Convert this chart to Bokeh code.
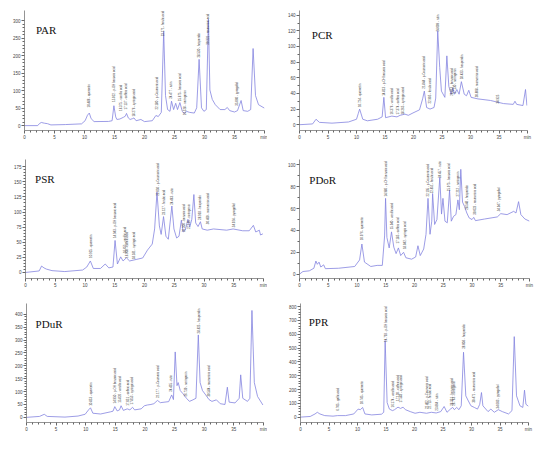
import math
from bokeh.plotting import figure
from bokeh.models import Range1d, FixedTicker, Label
from bokeh.layouts import column, row
from bokeh.core.properties import value
from bokeh.embed import file_html
from bokeh.resources import INLINE

# ---------------- data (retention time in min, absorbance in mAU) ----------------
x_ticks = [0, 5, 10, 15, 20, 25, 30, 35, 40]

# PAR
par_t = [0.0, 2.2, 2.5, 2.8, 3.3, 3.85, 4.4, 6.8, 9.5, 10.1, 10.5, 10.8, 11.1, 11.6, 14.0, 14.6, 14.9, 15.2, 15.4,
         15.9, 16.5, 16.8, 17.0, 17.3, 17.6, 18.0, 18.25, 18.6, 19.4, 20.0, 21.3, 21.9, 22.3, 22.8, 23.2, 23.5,
         23.85, 24.25, 24.5, 24.85, 25.2, 25.5, 25.9, 26.3, 26.6, 27.0, 27.5, 28.3, 28.7, 29.1, 29.5, 29.9, 30.3,
         30.65, 30.9, 31.3, 31.8, 32.6, 33.4, 33.8, 34.2, 35.0, 35.5, 36.1, 36.45, 37.2, 37.7, 38.1, 38.5, 39.0, 40.0]
par_mau = [0, 0, 6, 9, 7, 5.5, 2, 3, 5, 14, 30, 36, 20, 11.5, 12, 14, 57, 25, 17.6,
           19, 24, 27, 35, 22, 17.6, 20, 22, 14, 17.6, 11.5, 14, 29, 26, 38, 270, 86,
           46, 41, 70, 46, 64, 46, 66, 41, 35, 41, 38, 36, 51, 190, 51, 41, 46,
           305, 102, 75, 60, 46, 46, 52, 43, 39, 43, 72, 43, 41, 46, 221, 86, 60, 50]
par_lab_t = [10.7, 14.87, 16.1, 16.9, 18.25, 22.1, 22.95, 24.4, 25.85, 26.65, 29.0, 30.5, 35.3]
par_lab_y = [52, 68, 42, 46, 26, 46, 256, 77, 70, 30, 195, 232, 57]
par_lab = ["10.486 - quercetin", "15.022 - p-OH benzoic acid", "16.375 - vanillic acid", "17.137 - caffeic acid",
           "18.276 - syringic acid", "22.180 - p-Coumaric acid", "23.171 - ferulic acid", "24.477 - rutin",
           "25.675 - benzoic acid", "26.528 - naringenin", "28.530 - hesperidin", "30.331 - rosmarinic acid",
           "35.060 - pyrogallol"]
par_yticks = [0, 50, 100, 150, 200, 250, 300]

# PCR
pcr_t = [0, 2.3, 2.9, 3.5, 5.7, 8.6, 10.0, 10.3, 10.55, 11.1, 11.9, 13.7, 14.5, 14.8, 15.1, 16.2, 17.1, 17.65,
         18.5, 19.1, 19.9, 21.05, 21.6, 21.9, 22.3, 22.9, 23.6, 23.9, 24.25, 24.6, 24.9, 25.5, 25.85, 26.2, 26.6,
         26.9, 27.2, 27.6, 28.0, 28.4, 28.9, 29.3, 29.7, 30.1, 31.3, 33.5, 35.8, 37.5, 37.8, 38.1, 39.2, 39.65, 39.9]
pcr_mau = [0, 1, 7, 3, 2, 3.5, 7, 14, 20, 7, 5, 7, 10, 35, 9, 11, 10, 12,
           13.5, 12, 15, 19, 33, 43, 22, 20, 22, 34, 120, 73, 43, 35, 88, 49, 39,
           47, 39, 45, 39, 55, 39, 37, 44, 35, 33, 31, 27, 26, 30, 26, 24.5, 45, 24.5]
pcr_lab_t = [10.55, 14.7, 16.2, 17.25, 18.1, 21.75, 22.75, 24.2, 26.6, 27.2, 28.4, 31.0, 34.7]
pcr_lab_y = [22.6, 37, 13, 13, 13, 46, 27, 119, 37, 40, 58, 35, 27]
pcr_lab = ["10.724 - quercetin", "14.813 - p-OH benzoic acid", "16.376 - vanillic acid", "17.374 - caffeic acid",
           "18.265 - syringic acid", "21.844 - p-Coumaric acid", "22.905 - ferulic acid", "24.009 - rutin",
           "26.853 - benzoic acid", "27.130 - naringenin", "28.433 - hesperidin", "30.808 - rosmarinic acid",
           "34.925"]
pcr_yticks = [0, 20, 40, 60, 80, 100, 120, 140]

# PSR
psr_t = [0, 2.3, 2.7, 3.1, 3.5, 4.45, 6.6, 9.6, 10.3, 10.9, 11.4, 12.6, 13.4, 14.0, 14.7, 15.05, 15.45, 16.0, 16.4,
         16.95, 17.5, 18.6, 19.7, 20.5, 20.9, 21.3, 21.7, 22.1, 22.5, 22.8, 23.2, 23.6, 24.0, 24.6, 24.95, 25.4,
         25.8, 26.2, 26.5, 26.85, 27.3, 27.6, 27.95, 28.3, 28.6, 29.0, 29.4, 29.7, 30.55, 31.6, 33.8, 34.9, 36.5,
         37.6, 38.3, 38.7, 39.3, 39.5, 39.9]
psr_mau = [0, 2.5, 10.6, 7.6, 5.6, 3, 1.5, 4, 9, 19, 6.6, 6.6, 14, 7.6, 9, 53, 14, 25.8, 19,
           24.3, 19, 21.5, 24, 37, 42, 47, 72, 133, 77, 63, 92.5, 60, 55, 110, 72, 57,
           60, 86.5, 67, 70, 88, 75, 88, 129, 82, 76, 84, 72, 70, 72, 70, 72, 69,
           69, 78, 67, 70, 62, 64]
psr_lab_t = [10.9, 15.0, 16.6, 16.95, 18.2, 22.2, 23.2, 24.6, 26.5, 27.4, 29.2, 30.6, 35.0]
psr_lab_y = [24, 57, 32, 24, 22, 127, 95, 112, 67, 72, 87, 80, 75]
psr_lab = ["10.925 - quercetin", "14.943 - p-OH benzoic acid", "16.655 - vanillic acid", "16.908 - caffeic acid",
           "18.181 - syringic acid", "22.050 - p-Coumaric acid", "23.127 - ferulic acid", "24.463 - rutin",
           "26.300 - benzoic acid", "27.195 - naringenin", "28.993 - hesperidin", "30.460 - rosmarinic acid",
           "34.924 - pyrogallol"]
psr_yticks = [0, 25, 50, 75, 100, 125, 150, 175]

# PDoR
pdor_t = [0, 0.6, 1.7, 2.5, 2.85, 3.1, 3.4, 3.7, 4.2, 4.5, 6.8, 9.6, 10.45, 10.85, 11.3, 12.4, 13.5, 14.4, 14.8,
          14.97, 15.2, 15.6, 16.0, 16.4, 16.8, 17.2, 17.6, 18.1, 18.5, 19.5, 20.2, 20.6, 21.0, 21.6, 22.0, 22.35,
          22.7, 23.0, 23.15, 23.5, 23.9, 24.4, 24.7, 24.95, 25.3, 25.7, 26.1, 26.4, 26.8, 27.2, 27.55, 27.8, 28.05,
          28.35, 28.7, 29.1, 29.5, 30.0, 30.3, 30.6, 32.2, 34.4, 35.0, 36.1, 37.25, 37.65, 38.1, 38.5, 39.2, 40.0]
pdor_mau = [0, 2.4, 3, 5.4, 12, 9, 11, 6.5, 8.5, 5, 5.4, 7, 13, 27.6, 11, 7, 8, 8, 35,
            69.4, 33.6, 24, 38.7, 24.7, 18.8, 24, 17, 20, 15, 13.7, 15.7, 26, 17, 23, 36.5, 69.4,
            36.5, 48.5, 73.8, 45.5, 50, 88.7, 55, 69.4, 48.5, 47, 76.8, 48.5, 53, 54.5, 68, 59, 96,
            66, 62, 56, 51.5, 50, 52, 49, 50.5, 52.4, 55.4, 54.5, 57.5, 56, 66.4, 54.5, 50.5, 48.5]
pdor_lab_t = [10.85, 14.97, 16.0, 17.1, 18.2, 22.3, 23.05, 24.4, 26.0, 27.5, 29.1, 30.4, 34.7]
pdor_lab_y = [31, 71, 41, 28, 23, 71, 74, 88, 76, 71, 59, 54.5, 57.5]
pdor_lab = ["10.976 - quercetin", "14.986 - p-OH benzoic acid", "15.940 - vanillic acid", "17.185 - caffeic acid",
            "18.042 - syringic acid", "22.195 - p-Coumaric acid", "22.851 - ferulic acid", "24.457 - rutin",
            "25.975 - benzoic acid", "27.212 - naringenin", "28.548 - hesperidin", "30.023 - rosmarinic acid",
            "34.947 - pyrogallol"]
pdor_yticks = [0, 20, 40, 60, 80, 100]

# PDuR
pdur_t = [0, 2.2, 3.0, 3.5, 6.5, 8.7, 9.9, 10.5, 10.8, 11.2, 12.5, 14.2, 14.6, 14.9, 15.3, 15.7, 15.96, 16.35,
          17.0, 17.45, 17.9, 18.25, 19.35, 19.9, 20.4, 21.0, 21.5, 22.1, 22.6, 24.0, 24.5, 24.8, 25.1, 25.4, 25.6,
          25.95, 26.4, 27.0, 27.5, 28.1, 28.6, 29.0, 29.3, 29.7, 30.25, 30.8, 31.3, 32.05, 32.7, 33.5, 33.9, 34.2,
          35.2, 35.9, 36.15, 36.5, 37.3, 37.7, 38.05, 38.45, 39.0, 39.9]
pdur_mau = [0, 3.6, 11.9, 3.6, 1, 5, 12, 29.7, 37, 16, 13, 21.5, 24, 41.6, 25, 29, 45, 27,
            33, 29, 39, 29, 33, 45, 48, 50, 53, 65.6, 57, 61, 87, 69, 254, 123, 135,
            104, 92, 74, 62, 68, 74, 320, 135, 104, 87, 69, 62, 68, 53, 50, 117, 59,
            56, 74, 165, 74, 62, 74, 415, 135, 81, 48]
pdur_lab_t = [10.8, 14.85, 15.8, 17.05, 17.8, 22.1, 24.4, 26.85, 29.0, 30.7]
pdur_lab_y = [45, 54, 57, 45, 50, 75, 99, 81, 326, 81]
pdur_lab = ["10.853 - quercetin", "14.950 - p-OH benzoic acid", "15.826 - vanillic acid", "17.051 - caffeic acid",
            "17.853 - syringic acid", "22.177 - p-Coumaric acid", "24.435 - rutin", "26.739 - naringenin",
            "28.825 - hesperidin", "30.584 - rosmarinic acid"]
pdur_yticks = [0, 50, 100, 150, 200, 250, 300, 350, 400]

# PPR
ppr_t = [0, 1.7, 2.55, 2.95, 3.4, 4.25, 5.7, 6.5, 7.9, 9.35, 10.1, 10.5, 10.9, 11.3, 12.5, 14.2, 14.6, 14.85,
         15.2, 15.6, 16.15, 16.5, 17.1, 17.55, 18.0, 18.4, 19.25, 20.1, 20.95, 22.1, 22.95, 23.8, 24.6, 25.2,
         25.7, 26.3, 26.7, 27.0, 27.4, 27.8, 28.2, 28.6, 29.0, 29.45, 29.9, 30.5, 31.05, 31.45, 31.75, 32.0,
         32.9, 33.4, 34.0, 34.7, 35.4, 36.5, 37.1, 37.5, 37.9, 38.5, 39.0, 39.3, 39.55, 40.0]
ppr_mau = [0, 4.6, 23, 35, 23, 11, 7, 11, 11, 23, 58, 54, 70, 23, 16, 21, 35, 555,
           105, 58, 47, 54, 72, 63, 72, 54, 40, 28, 35, 28, 35, 30, 40, 77,
           35, 58, 70, 54, 70, 54, 82, 470, 154, 117, 82, 70, 58, 93, 178, 82,
           40, 58, 35, 54, 40, 23, 47, 583, 154, 82, 70, 195, 93, 78]
ppr_lab_t = [6.5, 10.8, 14.85, 16.15, 17.1, 17.65, 22.2, 22.6, 23.85, 26.5, 26.9, 28.6, 30.35, 34.6]
ppr_lab_y = [47, 93, 545, 70, 117, 105, 58, 58, 47, 82, 82, 495, 105, 63]
ppr_lab = ["6.705 - gallic acid", "10.745 - quercetin", "14.793 - p-OH benzoic acid", "16.174 - vanillic acid",
           "17.120 - caffeic acid", "17.583 - syringic acid", "22.402 - p-Coumaric acid", "22.713 - ferulic acid",
           "23.864 - rutin", "26.351 - benzoic acid", "26.763 - naringenin", "28.008 - hesperidin",
           "30.471 - rosmarinic acid", "34.603 - pyrogallol"]
ppr_yticks = [0, 100, 200, 300, 400, 500, 600, 700, 800]

# ---------------- styling ----------------
TRACE = "#8484e0"
AXIS = "#666666"
SANS = "Liberation Sans"
SERIF = "Liberation Serif"


def panel(name, t, mau, lab_t, lab_y, lab_txt, yticks, yminor, yr, borders, name_xy):
    left, right, top, bottom = borders
    p = figure(width=267, height=145, output_backend="svg", toolbar_location=None,
               x_range=Range1d(0, 40), y_range=Range1d(*yr),
               min_border_left=left, min_border_right=right,
               min_border_top=top, min_border_bottom=bottom,
               background_fill_color="white", border_fill_color="white")
    p.outline_line_color = None
    p.grid.visible = False
    p.line(t, mau, line_color=TRACE, line_width=0.8)
    p.text(x=lab_t, y=lab_y, text=lab_txt, angle=math.pi / 2,
           text_font=value(SANS), text_font_size="2.9px", text_color="#3a3a3a",
           text_align="left", text_baseline="middle")
    # axes
    minor_x = [v for v in range(0, 41) if v % 5 != 0]
    p.xaxis.ticker = FixedTicker(ticks=x_ticks, minor_ticks=minor_x)
    p.xaxis.major_label_overrides = {40: "min"}
    ymin = [v for v in range(0, int(yticks[-1]) + 1, yminor) if v not in yticks]
    p.yaxis.ticker = FixedTicker(ticks=yticks, minor_ticks=ymin)
    for ax in (p.xaxis[0], p.yaxis[0]):
        ax.axis_line_color = AXIS
        ax.axis_line_width = 0.7
        ax.major_tick_line_color = AXIS
        ax.minor_tick_line_color = AXIS
        ax.major_tick_out = 3
        ax.major_tick_in = 0
        ax.minor_tick_out = 2
        ax.minor_tick_in = 0
        ax.major_label_text_font = SANS
        ax.major_label_text_font_size = "4.5px"
        ax.major_label_text_color = "#444444"
        ax.major_label_standoff = 1
    p.add_layout(Label(x=0, y=yr[1], text="mAU", x_offset=-4, text_align="right", text_baseline="middle",
                       text_font=SANS, text_font_size="4.2px", text_color="#444444"))
    p.add_layout(Label(x=name_xy[0], y=name_xy[1], text=name, text_font=SERIF, text_font_size="11px",
                       text_color="#111111", text_baseline="alphabetic", text_align="left"))
    return p


p_par = panel("PAR", par_t, par_mau, par_lab_t, par_lab_y, par_lab, par_yticks, 10, (-14, 330),
              (24, 3, 7, 12), (1.9, 274))
p_pcr = panel("PCR", pcr_t, pcr_mau, pcr_lab_t, pcr_lab_y, pcr_lab, pcr_yticks, 10, (-7.4, 146),
              (32, 7, 10, 15), (2.17, 115))
p_psr = panel("PSR", psr_t, psr_mau, psr_lab_t, psr_lab_y, psr_lab, psr_yticks, 5, (-10, 187),
              (25, 4, 11, 9), (1.6, 155))
p_pdor = panel("PDoR", pdor_t, pdor_mau, pdor_lab_t, pdor_lab_y, pdor_lab, pdor_yticks, 10, (-4, 105),
               (32, 5, 14, 12), (1.7, 86))
p_pdur = panel("PDuR", pdur_t, pdur_mau, pdur_lab_t, pdur_lab_y, pdur_lab, pdur_yticks, 10, (-20, 442),
               (26, 4, 11, 11), (1.53, 362))
p_ppr = panel("PPR", ppr_t, ppr_mau, ppr_lab_t, ppr_lab_y, ppr_lab, ppr_yticks, 20, (-39, 823),
              (33, 6, 13, 13), (1.44, 692))

layout = column(row(p_par, p_pcr), row(p_psr, p_pdor), row(p_pdur, p_ppr))

open("out.html", "w").write(file_html(layout, INLINE))
